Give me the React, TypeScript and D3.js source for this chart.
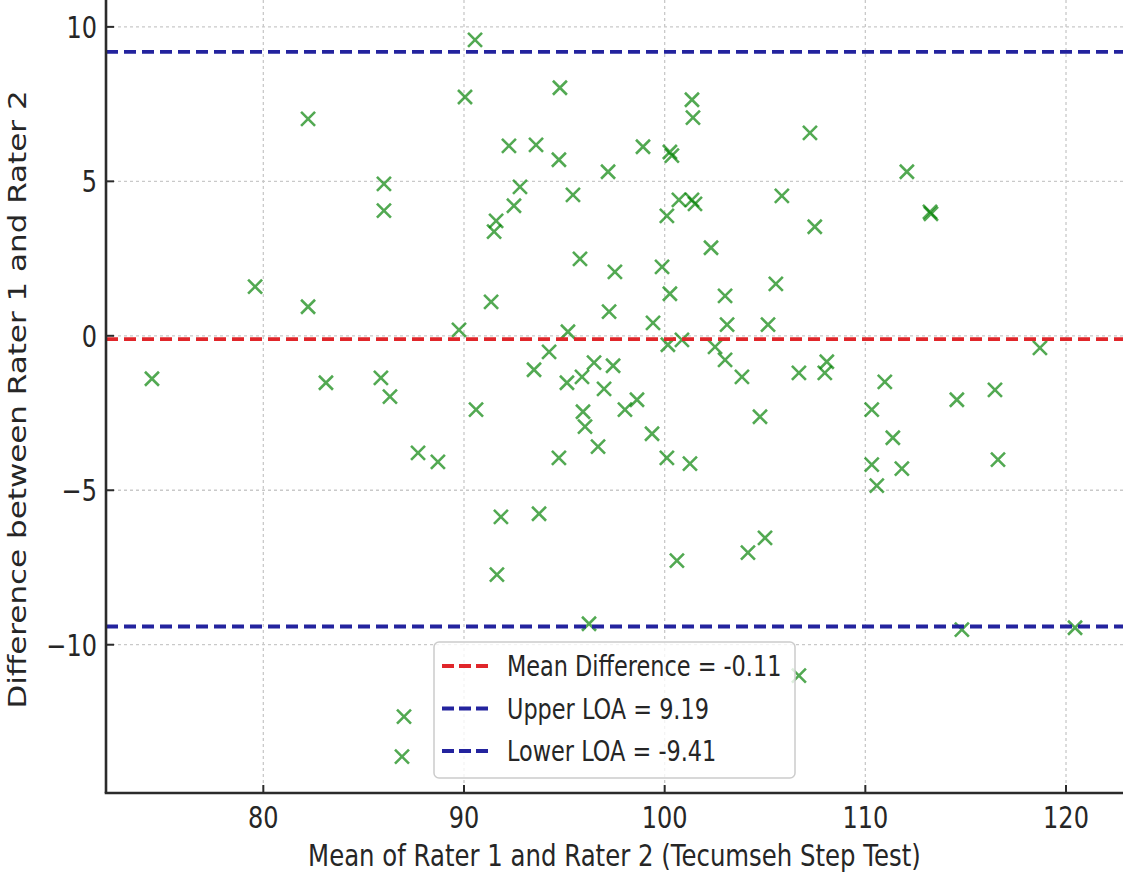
import React from "react";
import * as d3 from "d3";

// Bland-Altman 資料：兩位評分者的平均值 (x) 與差值 (y)
const meanValues: number[] = [
  74.45, 79.59, 82.23, 82.23, 83.12, 86.01, 86.01, 85.86, 86.31, 87.71,
  88.70, 87.01, 86.91, 89.75, 90.05, 90.55, 90.60, 91.35, 91.50, 91.60,
  91.84, 91.64, 92.24, 92.49, 92.79, 93.59, 93.49, 93.74, 94.24, 94.73,
  94.78, 94.73, 95.13, 95.18, 95.43, 95.78, 95.88, 95.93, 96.03, 96.23,
  96.48, 96.68, 96.98, 97.18, 97.23, 97.43, 97.52, 98.02, 98.62, 98.92,
  99.37, 99.42, 99.87, 100.11, 100.11, 100.26, 100.26, 100.36, 100.16, 100.61,
  100.71, 100.86, 101.36, 101.41, 101.36, 101.51, 101.26, 102.31, 102.51, 103.01,
  103.01, 103.11, 103.85, 104.15, 104.75, 105.00, 105.15, 105.54, 105.84, 106.69,
  106.69, 107.24, 107.48, 107.98, 108.08, 110.32, 110.32, 110.57, 110.97, 111.37,
  111.82, 112.07, 113.22, 113.27, 114.56, 114.81, 116.46, 116.61, 118.70, 120.45,
];
const diffValues: number[] = [
  -1.39, 1.59, 7.02, 0.94, -1.52, 4.92, 4.05, -1.36, -1.97, -3.79,
  -4.08, -12.33, -13.62, 0.19, 7.73, 9.58, -2.39, 1.10, 3.37, 3.72,
  -5.86, -7.73, 6.15, 4.21, 4.82, 6.18, -1.10, -5.76, -0.52, 5.70,
  8.03, -3.95, -1.52, 0.13, 4.56, 2.49, -1.33, -2.46, -2.94, -9.32,
  -0.87, -3.59, -1.72, 5.31, 0.78, -0.97, 2.07, -2.39, -2.07, 6.12,
  -3.17, 0.42, 2.23, 3.88, -3.95, 1.36, 5.95, 5.83, -0.29, -7.28,
  4.40, -0.13, 7.64, 7.06, 4.40, 4.27, -4.14, 2.85, -0.36, -0.78,
  1.29, 0.36, -1.33, -7.02, -2.62, -6.54, 0.36, 1.68, 4.53, -1.20,
  -11.00, 6.57, 3.53, -1.20, -0.84, -2.39, -4.17, -4.85, -1.49, -3.30,
  -4.30, 5.31, 4.01, 3.95, -2.07, -9.51, -1.75, -4.01, -0.39, -9.45,
];

// 參考線：平均差與一致性界限
const refValues: number[] = [-0.11, 9.19, -9.41];
const refLabels: string[] = ["Mean Difference = -0.11", "Upper LOA = 9.19", "Lower LOA = -9.41"];
const refColors: string[] = ["#e0262a", "#23239e", "#23239e"];

// 刻度
const xTicks: number[] = [80, 90, 100, 110, 120];
const yTicks: number[] = [-10, -5, 0, 5, 10];

const WIDTH = 1125;
const HEIGHT = 878;
/** 原圖被水平壓縮，文字也跟著壓 */
const SX = 0.8;
const FONT = "'DejaVu Sans', sans-serif";

const fmt = (v: number) => (v < 0 ? "\u2212" : "") + Math.abs(v);

/** 水平壓縮的文字 */
const SqText = (props: { x: number; y: number; rotate?: number; anchor?: string; size: number; children: string }) => (
  <g transform={`translate(${props.x},${props.y}) scale(${SX},1)`}>
    <text
      transform={props.rotate ? `rotate(${props.rotate})` : undefined}
      textAnchor={props.anchor || "start"}
      fontSize={props.size}
      fontFamily={FONT}
      fill="#262626"
    >
      {props.children}
    </text>
  </g>
);

export default function App() {
  const x = d3.scaleLinear().domain([72.16, 122.84]).range([106, 1123]);
  const y = d3.scaleLinear().domain([-14.8, 10.87]).range([793, 0]);
  const [x0, x1] = x.range();
  const [yb, yt] = y.range();

  const points = meanValues.map((m, i) => ({ m, d: diffValues[i] }));
  const lx = 434, ly = 642, lw = 361, lh = 136;

  return (
    <svg width={WIDTH} height={HEIGHT} style={{ position: "absolute", left: 0, top: 0, background: "#fff" }}>
      {/* 格線 */}
      <g stroke="#c9c9c9" strokeWidth={1.3} strokeDasharray="3 3">
        {xTicks.map((t) => <line key={"gx" + t} x1={x(t)} x2={x(t)} y1={yt} y2={yb} />)}
        {yTicks.map((t) => <line key={"gy" + t} x1={x0} x2={x1} y1={y(t)} y2={y(t)} />)}
      </g>

      {/* 散點 */}
      <g stroke="#008000" strokeOpacity={0.68} strokeWidth={2.6} fill="none">
        {points.map((p, i) => (
          <path key={i} transform={`translate(${x(p.m)},${y(p.d)})`} d="M-7,-7L7,7M-7,7L7,-7" />
        ))}
      </g>

      {/* 參考線 */}
      {refValues.map((v, i) => (
        <line key={"r" + i} x1={x0} x2={x1} y1={y(v)} y2={y(v)} stroke={refColors[i]} strokeWidth={3.8} strokeDasharray="12 6" />
      ))}

      {/* 座標軸 */}
      <g stroke="#2b2b2b">
        <line x1={x0} x2={x0} y1={yt} y2={yb} strokeWidth={2.6} />
        <line x1={x0 - 1.3} x2={x1} y1={yb} y2={yb} strokeWidth={2.6} />
        {xTicks.map((t) => <line key={"tx" + t} x1={x(t)} x2={x(t)} y1={yb} y2={yb - 8} strokeWidth={2} />)}
        {yTicks.map((t) => <line key={"ty" + t} x1={x0} x2={x0 + 8} y1={y(t)} y2={y(t)} strokeWidth={2} />)}
      </g>
      {xTicks.map((t) => (
        <SqText key={"lx" + t} x={x(t)} y={828} anchor="middle" size={30}>{fmt(t)}</SqText>
      ))}
      {yTicks.map((t) => (
        <SqText key={"ly" + t} x={97} y={y(t) + 11} anchor="end" size={30}>{fmt(t)}</SqText>
      ))}

      {/* 軸標題 */}
      <SqText x={(x0 + x1) / 2} y={866} anchor="middle" size={30.5}>Mean of Rater 1 and Rater 2 (Tecumseh Step Test)</SqText>
      <SqText x={26} y={(yt + yb) / 2 + 3} anchor="middle" rotate={-90} size={31}>Difference between Rater 1 and Rater 2</SqText>

      {/* 圖例 */}
      <rect x={lx} y={ly} width={lw} height={lh} rx={5} fill="#fff" fillOpacity={0.8} stroke="#cccccc" strokeWidth={1.5} />
      {refLabels.map((label, i) => {
        const cy = 666 + i * 42.5;
        return (
          <g key={"lg" + i}>
            <line x1={442} x2={488} y1={cy} y2={cy} stroke={refColors[i]} strokeWidth={3.8} strokeDasharray="12 5" />
            <SqText x={507} y={cy + 10} size={28}>{label}</SqText>
          </g>
        );
      })}
    </svg>
  );
}
